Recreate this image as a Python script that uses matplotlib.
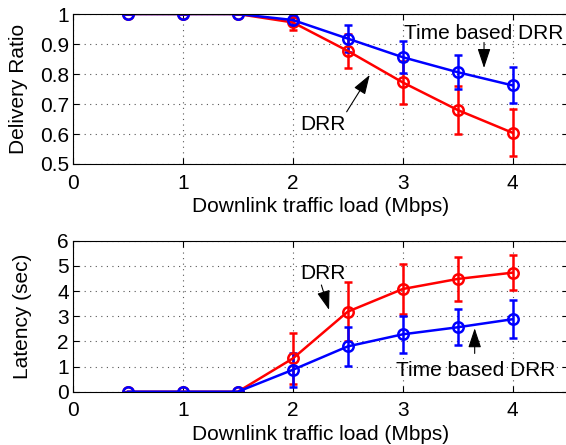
import matplotlib
matplotlib.use("Agg")
import matplotlib.pyplot as plt
import numpy as np

plt.rcParams['font.family'] = ['Liberation Sans', 'DejaVu Sans']

load = [0.5, 1.0, 1.5, 2.0, 2.5, 3.0, 3.5, 4.0]

dr_drr = [1.0, 1.0, 1.0, 0.972, 0.877, 0.772, 0.680, 0.604]
dr_drr_err = [0.0, 0.0, 0.0, 0.025, 0.058, 0.072, 0.079, 0.078]
dr_tb = [1.0, 1.0, 1.0, 0.980, 0.918, 0.856, 0.806, 0.762]
dr_tb_err = [0.0, 0.0, 0.0, 0.012, 0.044, 0.053, 0.057, 0.060]

lat_drr = [0.0, 0.0, 0.0, 1.32, 3.18, 4.08, 4.48, 4.73]
lat_drr_err = [0.0, 0.0, 0.0, 1.0, 1.17, 1.0, 0.86, 0.70]
lat_tb = [0.0, 0.0, 0.0, 0.87, 1.80, 2.28, 2.56, 2.88]
lat_tb_err = [0.0, 0.0, 0.0, 0.68, 0.76, 0.73, 0.72, 0.76]

xticks = [0, 1, 2, 3, 4]
xlabel = 'Downlink traffic load (Mbps)'

W, H = 566, 445
fig = plt.figure(figsize=(W / 100, H / 100), dpi=100)

left = 73 / W
right_px = 73 + 4.5 * 109.9
wpx = right_px - 73
width = wpx / W
ax1 = fig.add_axes([left, 1 - 164 / H, width, (164 - 14) / H])
ax2 = fig.add_axes([left, 1 - 391.7 / H, width, (391.7 - 240.7) / H])

FS = 15

def style(ax):
    ax.set_xlim(0, 4.5)
    ax.set_xticks(xticks)
    ax.grid(True, linestyle=(0, (1, 4)), color='#555555', linewidth=0.8)
    ax.tick_params(direction='in', top=True, right=True, labelsize=FS, length=4, width=0.8, pad=3)
    ax.tick_params(axis='x', pad=7)
    for s in ax.spines.values():
        s.set_linewidth(0.8)
    ax.spines['right'].set_visible(False)
    ax.set_xlabel(xlabel, fontsize=FS, labelpad=3)
    ax.set_axisbelow(True)

kw = dict(linewidth=1.8, marker='o', markersize=7.5, markerfacecolor='none',
          markeredgewidth=1.8, capsize=3, elinewidth=1.8, capthick=1.8)

ax1.errorbar(load, dr_drr, yerr=dr_drr_err, color='#ff0000', **kw)
ax1.errorbar(load, dr_tb, yerr=dr_tb_err, color='#0000ff', **kw)
style(ax1)
ax1.set_ylim(0.5, 1.0)
ax1.set_yticks([0.5, 0.6, 0.7, 0.8, 0.9, 1.0])
ax1.set_yticklabels(['0.5', '0.6', '0.7', '0.8', '0.9', '1'])
ax1.set_ylabel('Delivery Ratio', fontsize=FS)
ax1.yaxis.set_label_coords((28 - 73) / wpx, 0.5)

aprops = dict(arrowstyle='-|>,head_length=1.2,head_width=0.4', color='black',
              linewidth=0.8, shrinkA=0, shrinkB=0)
ax1.text(3.74, 0.935, 'Time based DRR', fontsize=FS, ha='center', va='center')
ax1.annotate('', xy=(3.74, 0.82), xytext=(3.74, 0.905), arrowprops=aprops)
ax1.text(2.275, 0.63, 'DRR', fontsize=FS, ha='center', va='center')
ax1.annotate('', xy=(2.70, 0.797), xytext=(2.49, 0.674), arrowprops=aprops)

ax2.errorbar(load, lat_drr, yerr=lat_drr_err, color='#ff0000', **kw)
ax2.errorbar(load, lat_tb, yerr=lat_tb_err, color='#0000ff', **kw)
style(ax2)
ax2.set_ylim(0, 6)
ax2.set_yticks([0, 1, 2, 3, 4, 5, 6])
ax2.set_ylabel('Latency (sec)', fontsize=FS)
ax2.yaxis.set_label_coords((32 - 73) / wpx, 0.5)

ax2.text(2.27, 4.70, 'DRR', fontsize=FS, ha='center', va='center')
ax2.annotate('', xy=(2.33, 3.25), xytext=(2.26, 4.24), arrowprops=aprops)
ax2.text(3.66, 0.86, 'Time based DRR', fontsize=FS, ha='center', va='center')
ax2.annotate('', xy=(3.655, 2.52), xytext=(3.655, 1.52), arrowprops=aprops)

fig.savefig('out.png', dpi=100)
